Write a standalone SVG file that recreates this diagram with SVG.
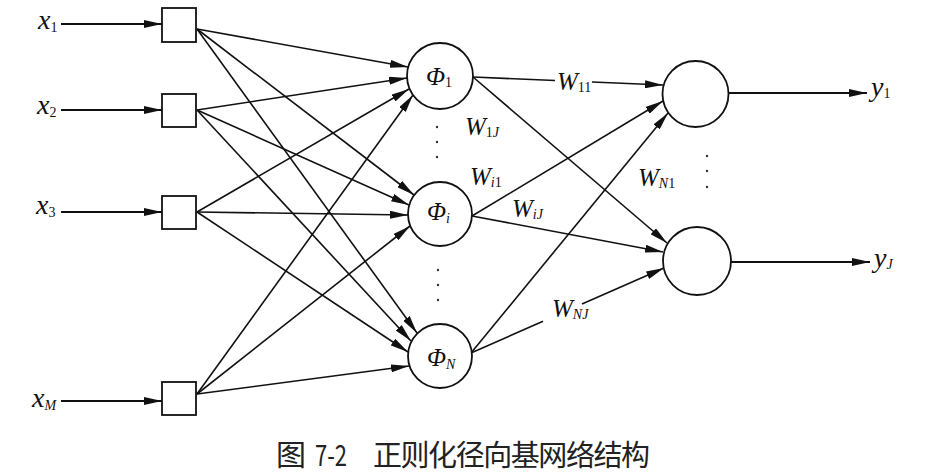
<svg xmlns="http://www.w3.org/2000/svg" width="925" height="476" viewBox="0 0 925 476">
<defs>
<marker id="ah" markerUnits="userSpaceOnUse" markerWidth="18" markerHeight="8" refX="18" refY="4" orient="auto">
<path d="M0,0 L18,4 L0,8 Z" fill="#111"/>
</marker>
<style>
.node{fill:#fff;stroke:#111;stroke-width:1.8}
.c{fill:none;stroke:#111;stroke-width:1.6;marker-end:url(#ah)}
.in{fill:none;stroke:#111;stroke-width:2;marker-end:url(#ah)}
.m{font-family:"Liberation Serif",serif;font-style:italic;fill:#111}
.s{font-size:14px}
.u{font-style:normal}
.dot{fill:#333}
.cap{font-family:"Noto Sans CJK SC","Noto Sans",sans-serif;font-size:29px;fill:#222}
</style>
</defs>
<rect width="925" height="476" fill="#fff"/>

<g id="connectors">
<path class="in" d="M61,24 L162,24"/>
<path class="in" d="M61,110 L162,110"/>
<path class="in" d="M61,212 L162,212"/>
<path class="in" d="M61,401 L162,401"/>

<path class="c" d="M197,29 L408,67"/>
<path class="c" d="M197,29 L414,195"/>
<path class="c" d="M197,29 L417,333"/>
<path class="c" d="M197,110 L407,78"/>
<path class="c" d="M197,110 L409,205"/>
<path class="c" d="M197,110 L411,341"/>
<path class="c" d="M197,212 L409,89"/>
<path class="c" d="M197,212 L408,215"/>
<path class="c" d="M197,212 L408,352"/>
<path class="c" d="M197,394 L413,95"/>
<path class="c" d="M197,394 L410,226"/>
<path class="c" d="M197,394 L409,366"/>

<path class="c" d="M473,77 L555,80.5 M592,82 L663,85"/>
<path class="c" d="M473,77 L667,243"/>
<path class="c" d="M472,216 L663,101"/>
<path class="c" d="M472,216 L663,252"/>
<path class="c" d="M471,353 L668,113"/>
<path class="c" d="M471,353 L543,321.3 M582,304.1 L664,268"/>

<path class="in" d="M729,93 L867,93" stroke-width="2.4"/>
<path class="in" d="M730,262 L870,262"/>
</g>

<g id="x1"><rect class="node" x="162" y="8" width="34" height="34"/></g>
<g id="x2"><rect class="node" x="162" y="94" width="34" height="33"/></g>
<g id="x3"><rect class="node" x="162" y="196" width="34" height="33"/></g>
<g id="xM"><rect class="node" x="162" y="382" width="34" height="33"/></g>

<g id="phi1"><circle class="node" cx="440" cy="76" r="33"/>
<text class="m" x="426" y="85" font-size="25">Φ<tspan class="s u" dy="2">1</tspan></text></g>
<g id="phii"><circle class="node" cx="440" cy="214" r="32"/>
<text class="m" x="427" y="220" font-size="25">Φ<tspan class="s" dy="3">i</tspan></text></g>
<g id="phiN"><circle class="node" cx="440" cy="356" r="32"/>
<text class="m" x="427" y="366" font-size="25">Φ<tspan class="s" dy="3">N</tspan></text></g>

<g id="out1"><circle class="node" cx="695.5" cy="94" r="33"/></g>
<g id="outJ"><circle class="node" cx="697" cy="261" r="34"/></g>

<g id="labels">
<text class="m" x="38" y="29" font-size="28">x<tspan class="s u" font-size="15" dy="3">1</tspan></text>
<text class="m" x="37" y="114" font-size="28">x<tspan class="s u" font-size="15" dy="3">2</tspan></text>
<text class="m" x="36" y="214" font-size="28">x<tspan class="s u" font-size="15" dy="3">3</tspan></text>
<text class="m" x="32" y="407" font-size="28">x<tspan class="s" font-size="15" dy="3">M</tspan></text>

<text class="m" x="871" y="96" font-size="28">y<tspan class="s u" dy="2">1</tspan></text>
<text class="m" x="874" y="267" font-size="28">y<tspan class="s" dy="2">J</tspan></text>

<text class="m" x="557" y="90" font-size="25">W<tspan class="s u" dy="2">11</tspan></text>
<text class="m" x="465" y="135" font-size="25">W<tspan class="s u" dy="2">1</tspan><tspan class="s">J</tspan></text>
<text class="m" x="470" y="185" font-size="25">W<tspan class="s" dy="2">i</tspan><tspan class="s u">1</tspan></text>
<text class="m" x="512" y="217" font-size="25">W<tspan class="s" dy="2">iJ</tspan></text>
<text class="m" x="638" y="186" font-size="25">W<tspan class="s" dy="2">N</tspan><tspan class="s u">1</tspan></text>
<text class="m" x="552" y="317" font-size="25">W<tspan class="s" dy="2">NJ</tspan></text>

<circle class="dot" cx="437" cy="127" r="1.2"/>
<circle class="dot" cx="437" cy="142" r="1.2"/>
<circle class="dot" cx="437" cy="157" r="1.2"/>
<circle class="dot" cx="438" cy="270" r="1.2"/>
<circle class="dot" cx="438" cy="285" r="1.2"/>
<circle class="dot" cx="438" cy="300" r="1.2"/>
<circle class="dot" cx="707" cy="156" r="1.2"/>
<circle class="dot" cx="707" cy="171" r="1.2"/>
<circle class="dot" cx="707" cy="187" r="1.2"/>

<text class="cap" x="276" y="466" textLength="30" lengthAdjust="spacingAndGlyphs">图</text>
<text class="cap" x="315" y="466" font-size="27" textLength="32" lengthAdjust="spacingAndGlyphs">7-2</text>
<text class="cap" x="373" y="466" textLength="277" lengthAdjust="spacing">正则化径向基网络结构</text>
</g>
</svg>
